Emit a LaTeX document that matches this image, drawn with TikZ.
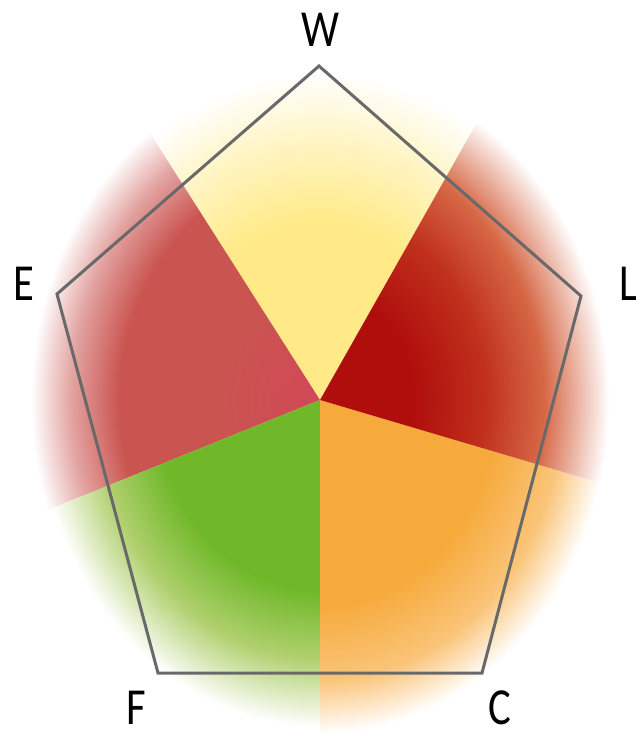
\documentclass[tikz,border=0pt]{standalone}
\usepackage{fontspec}
\setmainfont{Carlito}
\definecolor{penta}{RGB}{105,105,105}
\definecolor{cY}{RGB}{255,234,135}
\definecolor{cE}{RGB}{202,84,80}
\definecolor{cEc}{RGB}{210,72,88}
\definecolor{cL}{RGB}{176,14,12}
\definecolor{cLm}{RGB}{192,48,28}
\definecolor{cLo}{RGB}{214,104,70}
\definecolor{cG}{RGB}{112,184,42}
\definecolor{cGo}{RGB}{176,208,110}
\definecolor{cO}{RGB}{246,170,60}
\definecolor{cOo}{RGB}{250,196,120}
\pgfdeclareradialshading{fadeY}{\pgfpoint{0bp}{0bp}}{color(0bp)=(cY); color(13bp)=(cY); color(19bp)=(cY!50!white); color(24bp)=(white); color(50bp)=(white)}
\pgfdeclareradialshading{fadeE}{\pgfpoint{0bp}{0bp}}{color(0bp)=(cEc); color(8bp)=(cE); color(17bp)=(cE); color(21bp)=(cE!55!white); color(24.5bp)=(white); color(50bp)=(white)}
\pgfdeclareradialshading{fadeL}{\pgfpoint{0bp}{0bp}}{color(0bp)=(cL); color(8bp)=(cL); color(14bp)=(cLm); color(19bp)=(cLo); color(21.5bp)=(cLo!55!white); color(24.5bp)=(white); color(50bp)=(white)}
\pgfdeclareradialshading{fadeG}{\pgfpoint{0bp}{0bp}}{color(0bp)=(cG); color(14bp)=(cG); color(19bp)=(cGo); color(24bp)=(white); color(50bp)=(white)}
\pgfdeclareradialshading{fadeO}{\pgfpoint{0bp}{0bp}}{color(0bp)=(cO); color(15bp)=(cO); color(20.5bp)=(cOo); color(24.5bp)=(white); color(50bp)=(white)}
\begin{document}
\begin{tikzpicture}[x=1pt,y=-1pt,
  lbl/.style={font=\fontsize{52}{52}\selectfont, text=black, inner sep=0pt},
  pent/.style={draw=penta, line width=3pt, line join=miter},
  blob/.style={x radius=295, y radius=340}]
\useasboundingbox[fill=white] (0,0) rectangle (636,734);
\coordinate (O) at (320,400);
\coordinate (aWL) at (615.4,-122.2);
\coordinate (aWE) at (-2.4,-106);
\coordinate (aEG) at (-236.3,624.8);
\coordinate (aGO) at (320,1000);
\coordinate (aOL) at (895.3,570.4);
% sectors
\begin{scope}
  \clip (O) -- (aWE) -- (aWL) -- cycle;
  \shade[shading=fadeY] (O) ellipse[blob];
\end{scope}
\begin{scope}
  \clip (O) -- (aEG) -- (-400,-400) -- (aWE) -- cycle;
  \shade[shading=fadeE] (O) ellipse[blob];
\end{scope}
\begin{scope}
  \clip (O) -- (aGO) -- (-400,1000) -- (aEG) -- cycle;
  \shade[shading=fadeG] (O) ellipse[blob];
\end{scope}
\begin{scope}
  \clip (O) -- (aGO) -- (1000,1000) -- (aOL) -- cycle;
  \shade[shading=fadeO] (O) ellipse[blob];
\end{scope}
\begin{scope}
  \clip (O) -- (aOL) -- (1000,-400) -- (aWL) -- cycle;
  \shade[shading=fadeL] (O) ellipse[blob];
\end{scope}
% pentagon
\coordinate (vW) at (319,66);
\coordinate (vL) at (581,296);
\coordinate (vC) at (482,673);
\coordinate (vF) at (158,673);
\coordinate (vE) at (57,294);
\draw[pent] (vW) -- (vL) -- (vC) -- (vF) -- (vE) -- cycle;
% labels
\node[lbl] (tW) at (320,30) {\scalebox{0.82}[1]{W}};
\node[lbl] (tL) at (628,284) {\scalebox{0.82}[1]{L}};
\node[lbl] (tE) at (24,284) {\scalebox{0.82}[1]{E}};
\node[lbl] (tF) at (136,708) {\scalebox{0.82}[1]{F}};
\node[lbl] (tC) at (500,708) {\scalebox{0.82}[1]{C}};
\end{tikzpicture}
\end{document}
